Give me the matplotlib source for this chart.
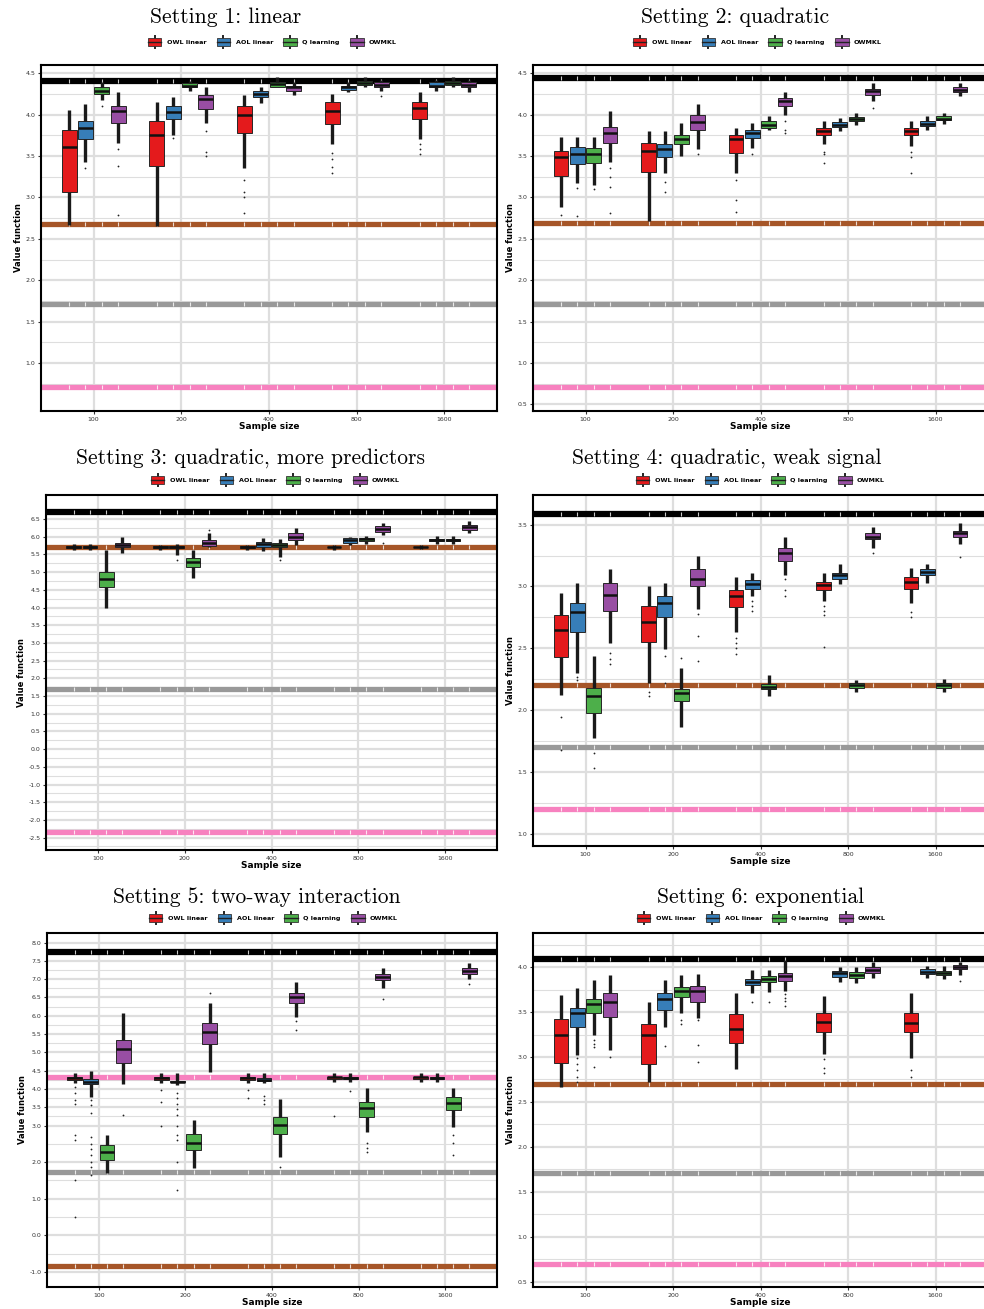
import numpy as np
import matplotlib.pyplot as plt
from matplotlib.patches import Patch, Rectangle
from matplotlib.lines import Line2D
from matplotlib.legend_handler import HandlerBase
from matplotlib.ticker import FixedLocator

sample_sizes = ['100', '200', '400', '800', '1600']
methods = ['OWL linear', 'AOL linear', 'Q learning', 'OWMKL']
box_colors = ['#E41A1C', '#377EB8', '#4DAF4A', '#984EA3']
ref_colors = ['#000000', '#A65628', '#999999', '#F781BF']
titles = ['Setting 1: linear', 'Setting 2: quadratic',
          'Setting 3: quadratic, more predictors', 'Setting 4: quadratic, weak signal',
          'Setting 5: two-way interaction', 'Setting 6: exponential']

# rows = methods (OWL, AOL, Q, OWMKL), cols = sample sizes
# ---- setting 1
s1_lo = [[2.67, 2.65, 3.36, 3.64, 3.70], [3.43, 3.76, 4.14, 4.27, 4.29],
         [4.18, 4.28, 4.33, 4.34, 4.34], [3.66, 3.90, 4.24, 4.28, 4.27]]
s1_q1 = [[3.06, 3.38, 3.78, 3.89, 3.95], [3.71, 3.95, 4.21, 4.30, 4.33],
         [4.25, 4.33, 4.34, 4.36, 4.36], [3.90, 4.07, 4.29, 4.34, 4.34]]
s1_med = [[3.61, 3.75, 4.00, 4.04, 4.08], [3.84, 4.03, 4.25, 4.33, 4.35],
          [4.29, 4.35, 4.37, 4.38, 4.38], [4.04, 4.19, 4.33, 4.36, 4.36]]
s1_q3 = [[3.82, 3.92, 4.11, 4.15, 4.15], [3.92, 4.11, 4.29, 4.35, 4.39],
         [4.33, 4.38, 4.40, 4.41, 4.41], [4.11, 4.24, 4.35, 4.39, 4.39]]
s1_hi = [[4.06, 4.15, 4.24, 4.25, 4.27], [4.13, 4.21, 4.33, 4.40, 4.42],
         [4.40, 4.41, 4.46, 4.45, 4.46], [4.27, 4.33, 4.39, 4.42, 4.42]]
s1_out = [[[], [], [3.21, 3.07, 3.01, 2.81], [3.54, 3.46, 3.37, 3.30], [3.64, 3.58, 3.52]],
          [[3.36], [3.72], [], [], []],
          [[4.11], [], [], [], []],
          [[3.58, 3.38, 2.79], [3.80, 3.55, 3.50], [], [4.22], []]]
s1_lines = [4.41, 2.68, 1.71, 0.71]

# ---- setting 2
s2_lo = [[2.89, 2.71, 3.30, 3.64, 3.62], [3.18, 3.30, 3.60, 3.80, 3.82],
         [3.15, 3.50, 3.82, 3.87, 3.89], [3.43, 3.59, 4.00, 4.16, 4.22]]
s2_q1 = [[3.26, 3.31, 3.54, 3.75, 3.75], [3.40, 3.49, 3.72, 3.85, 3.86],
         [3.42, 3.65, 3.84, 3.92, 3.93], [3.66, 3.81, 4.11, 4.24, 4.27]]
s2_med = [[3.49, 3.56, 3.71, 3.80, 3.80], [3.52, 3.59, 3.78, 3.88, 3.89],
          [3.53, 3.70, 3.88, 3.95, 3.95], [3.78, 3.91, 4.16, 4.28, 4.30]]
s2_q3 = [[3.56, 3.66, 3.76, 3.84, 3.84], [3.61, 3.65, 3.82, 3.91, 3.92],
         [3.60, 3.75, 3.92, 3.97, 3.98], [3.85, 3.99, 4.20, 4.31, 4.33]]
s2_hi = [[3.73, 3.80, 3.84, 3.92, 3.92], [3.73, 3.80, 3.90, 3.96, 3.98],
         [3.73, 3.90, 3.98, 4.02, 4.02], [4.04, 4.13, 4.27, 4.38, 4.38]]
s2_out = [[[2.79], [], [3.21, 2.97, 2.83], [3.55, 3.52, 3.42], [3.55, 3.49, 3.30]],
          [[3.12, 2.78], [3.19, 3.07], [3.53], [], []],
          [[3.10], [], [], [], []],
          [[3.36, 3.25, 3.13, 2.81], [3.52], [3.92, 3.82, 3.78], [4.08], []]]
s2_lines = [4.44, 2.69, 1.71, 0.71]

# ---- setting 3
s3_lo = [[5.62, 5.62, 5.64, 5.64, 5.65], [5.62, 5.48, 5.60, 5.76, 5.80],
         [3.99, 4.83, 5.43, 5.80, 5.80], [5.54, 5.71, 5.77, 6.05, 6.10]]
s3_q1 = [[5.69, 5.69, 5.69, 5.70, 5.70], [5.69, 5.69, 5.71, 5.82, 5.87],
         [4.58, 5.14, 5.71, 5.88, 5.87], [5.71, 5.74, 5.91, 6.13, 6.20]]
s3_med = [[5.71, 5.71, 5.71, 5.71, 5.71], [5.71, 5.71, 5.80, 5.90, 5.91],
          [4.80, 5.28, 5.76, 5.93, 5.91], [5.78, 5.82, 6.00, 6.22, 6.27]]
s3_q3 = [[5.73, 5.73, 5.73, 5.72, 5.72], [5.73, 5.74, 5.85, 5.96, 5.95],
         [5.00, 5.40, 5.82, 5.97, 5.95], [5.82, 5.91, 6.10, 6.30, 6.33]]
s3_hi = [[5.79, 5.78, 5.77, 5.76, 5.76], [5.79, 5.80, 5.96, 5.99, 6.02],
         [5.62, 5.62, 5.93, 6.02, 6.02], [5.99, 6.10, 6.24, 6.39, 6.45]]
s3_out = [[[], [], [], [], []],
          [[], [5.35], [], [], []],
          [[], [], [5.35], [], []],
          [[], [6.20], [], [5.83], []]]
s3_lines = [6.70, 5.71, 1.70, -2.34]

# ---- setting 4
s4_lo = [[2.12, 2.22, 2.63, 2.88, 2.87], [2.30, 2.49, 2.92, 3.02, 3.03],
         [1.77, 1.86, 2.11, 2.15, 2.15], [2.54, 2.82, 3.09, 3.31, 3.34]]
s4_q1 = [[2.43, 2.55, 2.83, 2.97, 2.98], [2.63, 2.75, 2.98, 3.06, 3.09],
         [1.98, 2.07, 2.17, 2.18, 2.18], [2.80, 3.00, 3.21, 3.38, 3.40]]
s4_med = [[2.65, 2.71, 2.92, 3.01, 3.04], [2.79, 2.87, 3.02, 3.09, 3.12],
          [2.11, 2.14, 2.19, 2.20, 2.20], [2.93, 3.06, 3.27, 3.40, 3.43]]
s4_q3 = [[2.77, 2.84, 2.97, 3.04, 3.08], [2.87, 2.92, 3.05, 3.11, 3.14],
         [2.18, 2.17, 2.21, 2.22, 2.22], [3.03, 3.14, 3.31, 3.43, 3.45]]
s4_hi = [[2.95, 3.00, 3.08, 3.11, 3.15], [3.03, 3.03, 3.11, 3.18, 3.18],
         [2.44, 2.34, 2.28, 2.24, 2.25], [3.14, 3.25, 3.40, 3.48, 3.51]]
s4_out = [[[1.94, 1.68], [2.15, 2.11], [2.58, 2.54, 2.50, 2.45], [2.84, 2.80, 2.77, 2.51], [2.79, 2.75]],
          [[2.27, 2.24], [2.44, 2.22], [2.88, 2.84, 2.80], [], []],
          [[1.65, 1.53], [2.42], [], [], []],
          [[2.46, 2.41, 2.37], [2.78, 2.60, 2.40], [3.06, 2.97, 2.92], [3.27], [3.24]]]
s4_lines = [3.59, 2.20, 1.70, 1.20]

# ---- setting 5
s5_lo = [[4.15, 4.15, 4.15, 4.20, 4.20], [3.78, 4.12, 4.15, 4.20, 4.20],
         [1.70, 1.85, 2.14, 2.83, 2.96], [4.14, 4.46, 5.97, 6.76, 7.00]]
s5_q1 = [[4.25, 4.25, 4.25, 4.27, 4.27], [4.14, 4.18, 4.22, 4.27, 4.27],
         [2.06, 2.33, 2.77, 3.23, 3.43], [4.71, 5.23, 6.35, 6.98, 7.14]]
s5_med = [[4.30, 4.30, 4.30, 4.32, 4.32], [4.20, 4.20, 4.25, 4.30, 4.30],
          [2.28, 2.52, 3.02, 3.48, 3.62], [5.09, 5.56, 6.51, 7.06, 7.22]]
s5_q3 = [[4.33, 4.33, 4.33, 4.34, 4.34], [4.27, 4.22, 4.30, 4.33, 4.33],
         [2.47, 2.77, 3.23, 3.64, 3.78], [5.34, 5.80, 6.62, 7.14, 7.30]]
s5_hi = [[4.44, 4.44, 4.44, 4.44, 4.44], [4.49, 4.44, 4.44, 4.44, 4.44],
         [2.74, 3.15, 3.73, 4.03, 4.03], [6.08, 6.35, 6.92, 7.30, 7.44]]
s5_out = [[[4.05, 3.90, 3.70, 3.60, 2.74, 2.60, 1.51, 0.50], [3.97, 3.65, 3.00], [3.97, 3.75], [3.26], []],
          [[3.70, 3.55, 3.35, 2.69, 2.50, 2.35, 2.20, 2.00, 1.87, 1.65],
           [3.90, 3.75, 3.60, 3.45, 3.30, 3.00, 2.75, 2.60, 2.00, 1.24], [3.80, 3.70, 3.60], [3.95], []],
          [[], [], [1.87], [2.52, 2.39, 2.28], [2.74, 2.52, 2.20]],
          [[3.29], [6.62], [5.86, 5.61], [6.46], [6.87]]]
s5_lines = [7.74, -0.84, 1.73, 4.33]

# ---- setting 6
s6_lo = [[2.67, 2.72, 2.87, 3.03, 2.99], [3.02, 3.33, 3.71, 3.84, 3.88],
         [3.24, 3.49, 3.72, 3.82, 3.87], [3.08, 3.43, 3.74, 3.88, 3.91]]
s6_q1 = [[2.93, 2.92, 3.16, 3.28, 3.28], [3.33, 3.52, 3.80, 3.89, 3.92],
         [3.49, 3.67, 3.83, 3.88, 3.91], [3.44, 3.61, 3.85, 3.94, 3.98]]
s6_med = [[3.24, 3.24, 3.31, 3.39, 3.38], [3.49, 3.64, 3.83, 3.93, 3.95],
          [3.59, 3.73, 3.87, 3.91, 3.93], [3.61, 3.73, 3.90, 3.97, 4.00]]
s6_q3 = [[3.42, 3.37, 3.48, 3.49, 3.49], [3.55, 3.71, 3.87, 3.96, 3.98],
         [3.64, 3.78, 3.90, 3.95, 3.96], [3.71, 3.79, 3.94, 4.00, 4.02]]
s6_hi = [[3.69, 3.61, 3.71, 3.68, 3.71], [3.77, 3.86, 3.97, 4.00, 4.01],
         [3.86, 3.91, 3.97, 4.00, 4.01], [3.91, 3.92, 4.08, 4.06, 4.06]]
s6_out = [[[], [], [], [2.98, 2.88, 2.82], [2.85, 2.78]],
          [[2.99, 2.92, 2.85, 2.78, 2.72], [3.12], [3.61], [], []],
          [[3.19, 3.14, 3.11, 2.89], [3.41, 3.37], [3.61], [], []],
          [[3.00], [3.41, 3.13, 2.94], [3.70, 3.66, 3.62, 3.57], [], [3.85]]]
s6_lines = [4.09, 2.70, 1.71, 0.70]

settings = [
    (s1_lo, s1_q1, s1_med, s1_q3, s1_hi, s1_out, s1_lines),
    (s2_lo, s2_q1, s2_med, s2_q3, s2_hi, s2_out, s2_lines),
    (s3_lo, s3_q1, s3_med, s3_q3, s3_hi, s3_out, s3_lines),
    (s4_lo, s4_q1, s4_med, s4_q3, s4_hi, s4_out, s4_lines),
    (s5_lo, s5_q1, s5_med, s5_q3, s5_hi, s5_out, s5_lines),
    (s6_lo, s6_q1, s6_med, s6_q3, s6_hi, s6_out, s6_lines),
]

# axes boxes in pixels: left, top, right, bottom
W, H = 984, 1309
boxes = [(41, 65, 497, 411), (533, 65, 988, 411),
         (46, 495, 497, 850), (533, 495, 988, 846),
         (47, 933, 497, 1287), (533, 933, 988, 1287)]
title_pos = [(226, 17), (735, 17), (251, 458), (727, 458), (257, 897), (761, 897)]
legend_pos = [(272, 42), (757, 42), (275, 480), (760, 480), (273, 918), (761, 918)]
ylims = [(0.42, 4.60), (0.42, 4.60), (-2.85, 7.18), (0.90, 3.74), (-1.41, 8.26), (0.44, 4.38)]
yticks = [list(np.arange(1.0, 4.51, 0.5)), list(np.arange(0.5, 4.51, 0.5)),
          list(np.arange(-2.5, 6.51, 0.5)), list(np.arange(1.0, 3.51, 0.5)),
          list(np.arange(3.0, 8.01, 0.5)) + [2.0, 1.0, 0.0, -1.0], list(np.arange(0.5, 4.01, 0.5))]
minor_y = [np.arange(0.25, 4.6, 0.5), np.arange(0.25, 4.6, 0.5), np.arange(-2.75, 7.2, 0.5),
           np.arange(1.25, 3.74, 0.5), list(np.arange(3.25, 8.2, 0.5)) + [2.5, 1.5, 0.5, -0.5],
           np.arange(0.75, 4.38, 0.5)]

offsets = [-0.28, -0.094, 0.094, 0.28]
grid_col = '#DEDEDE'


class BoxKey(HandlerBase):
    # little boxplot glyph for the legend
    def create_artists(self, legend, orig_handle, xdescent, ydescent, width, height, fontsize, trans):
        x0, y0 = -xdescent, -ydescent
        c = orig_handle.get_facecolor()
        wl = Line2D([x0 + width / 2] * 2, [y0 - height * 0.25, y0 + height * 1.25],
                    color='#222222', lw=1.4, transform=trans)
        rect = Rectangle((x0 + width * 0.05, y0 + height * 0.05), width * 0.9, height * 0.9,
                         facecolor=c, edgecolor='#333333', lw=0.6, transform=trans)
        md = Line2D([x0 + width * 0.05, x0 + width * 0.95], [y0 + height / 2] * 2,
                    color='#222222', lw=1.0, transform=trans)
        return [wl, rect, md]


fig = plt.figure(figsize=(W / 100, H / 100), dpi=100)

for k, (lo, q1, med, q3, hi, out, lines) in enumerate(settings):
    l, t, r, b = boxes[k]
    ax = fig.add_axes([l / W, 1 - b / H, (r - l) / W, (b - t) / H])
    ax.set_xlim(0.4, 5.6)
    ax.set_ylim(*ylims[k])

    # grid
    ax.set_yticks(yticks[k], labels=[f'{v:.1f}' for v in yticks[k]])
    ax.yaxis.set_minor_locator(FixedLocator(minor_y[k]))
    ax.set_xticks(range(1, 6), labels=sample_sizes)
    ax.grid(True, which='major', color=grid_col, lw=1.6, zorder=0)
    ax.grid(True, which='minor', axis='y', color=grid_col, lw=0.8, zorder=0)
    ax.tick_params(axis='y', which='minor', length=0)
    ax.tick_params(axis='both', which='major', length=2.5, width=0.8, labelsize=4.5,
                   colors='#333333', pad=1.5)
    ax.set_axisbelow(True)

    # reference lines (with the little white breaks seen in the original)
    all_pos = [j + 1 + o for j in range(5) for o in offsets]
    for v, c in zip(lines, ref_colors):
        ax.axhline(v, color=c, lw=3.8 if c != '#000000' else 4.5, zorder=1.5)
        ax.plot(all_pos, [v] * len(all_pos), linestyle='none', marker='|', markersize=3,
                markeredgewidth=0.8, color='white', alpha=0.8, zorder=1.6)

    # boxes
    for i in range(4):
        stats = []
        for j in range(5):
            stats.append(dict(whislo=lo[i][j], q1=q1[i][j], med=med[i][j], q3=q3[i][j],
                              whishi=hi[i][j], fliers=out[i][j]))
        pos = [j + 1 + offsets[i] for j in range(5)]
        ax.bxp(stats, positions=pos, widths=0.17, patch_artist=True, showcaps=False,
               boxprops=dict(facecolor=box_colors[i], edgecolor='#262626', lw=0.7),
               medianprops=dict(color='#111111', lw=1.8),
               whiskerprops=dict(color='#1a1a1a', lw=2.4, solid_capstyle='butt'),
               flierprops=dict(marker='o', markersize=1.3, markerfacecolor='#222222',
                               markeredgecolor='none'),
               zorder=3, manage_ticks=False)

    for sp in ax.spines.values():
        sp.set_color('black')
        sp.set_linewidth(1.5)

    ax.set_xlabel('Sample size', fontsize=6.5, fontweight='bold', labelpad=0.5)
    ax.set_ylabel('Value function', fontsize=6, fontweight='bold', labelpad=2)

    handles = [Patch(facecolor=c) for c in box_colors]
    lx, ly = legend_pos[k]
    fig.legend(handles, methods, handler_map={Patch: BoxKey()},
               loc='center', bbox_to_anchor=(lx / W, 1 - ly / H), ncol=4, frameon=False,
               prop=dict(size=4.6, weight='bold'), handlelength=2.4, handleheight=1.5,
               columnspacing=1.5, handletextpad=0.7, borderpad=0.2)

    tx, ty = title_pos[k]
    fig.text(tx / W, 1 - ty / H, titles[k], ha='center', va='center',
             fontsize=15.5, fontfamily='cmr10')

fig.savefig('out.png', dpi=100)
